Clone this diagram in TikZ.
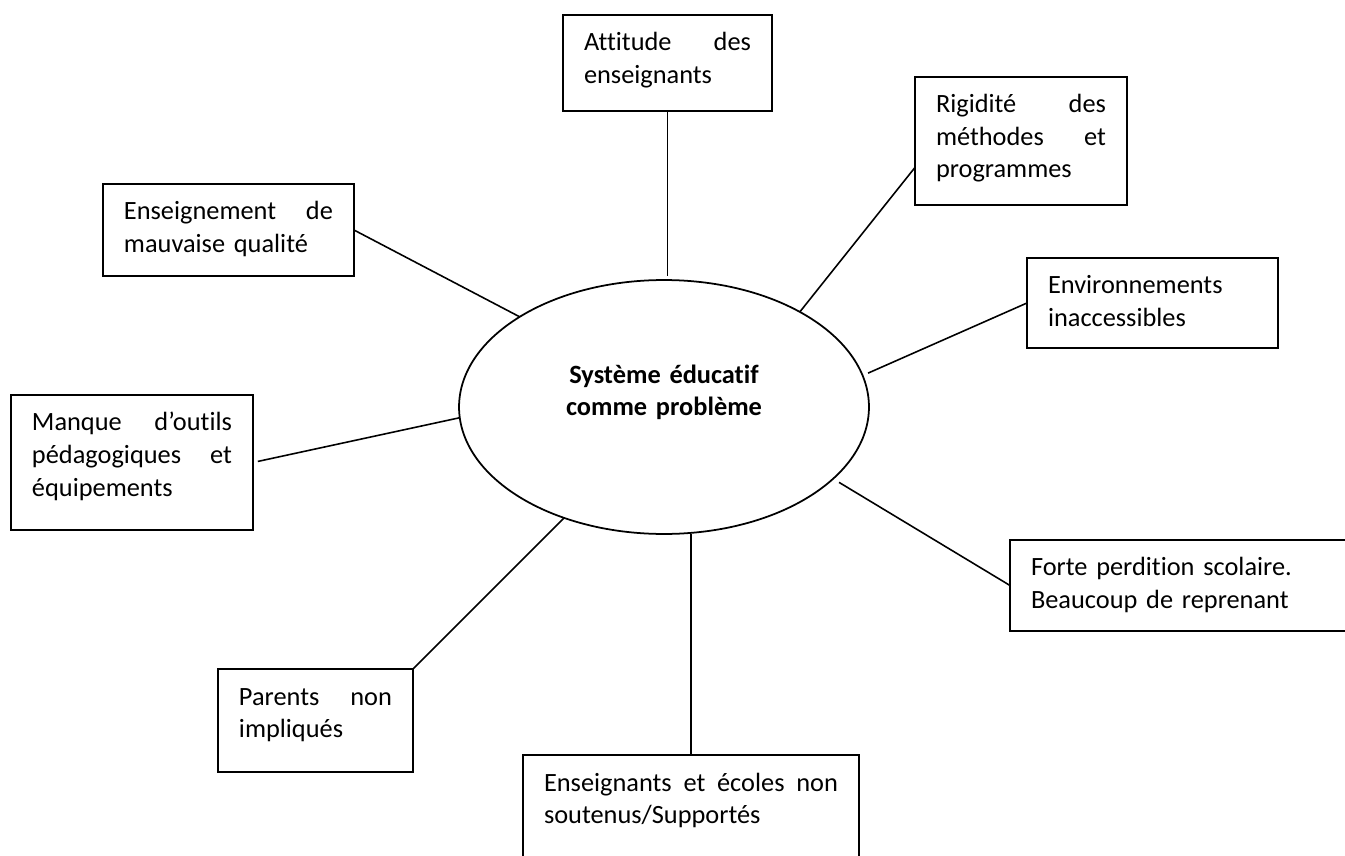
\documentclass[tikz,border=0pt]{standalone}
\usepackage{fontspec}
\setmainfont{Carlito}[Ligatures=CommonOff]
\usetikzlibrary{shapes.geometric}

\tikzset{
  boite/.style={draw,line width=1pt,anchor=north west,outer sep=0pt,inner xsep=0.42cm,inner ysep=0pt,
    align=left,text height=0.72cm,font=\fontsize{15}{18.5}\selectfont},
  lien/.style={line width=0.9pt},
}

\begin{document}
\begin{tikzpicture}[x=0.02cm,y=-0.02cm]
  \useasboundingbox (0,0) rectangle (1345,855);
  \node[ellipse,draw,line width=1pt,minimum width=8.2cm,minimum height=5.08cm,inner sep=0pt,outer sep=0pt,
    text width=5cm,align=center,text height=0.36cm,text depth=1.32cm,
    font=\fontsize{15}{18.5}\selectfont\bfseries] (ell) at (664,407) {Système éducatif\\comme problème};

  \node[boite,text width=3.34cm,text depth=1.2cm] (att) at (563,15) {Attitude\hfill des\\enseignants};
  \node[boite,text width=3.40cm,text depth=1.84cm] (rig) at (915,77) {Rigidité\hfill des\\méthodes\hfill et\\programmes};
  \node[boite,text width=4.18cm,text depth=1.08cm] (env) at (1027,258) {Environnements\\inaccessibles};
  \node[boite,text width=5.96cm,text depth=1.10cm] (perd) at (1010,540) {Forte perdition scolaire.\\Beaucoup de reprenant};
  \node[boite,text width=5.88cm,text depth=2.4cm] (sout) at (523,755) {Enseignants\hfill et\hfill écoles\hfill non\\soutenus/Supportés};
  \node[boite,text width=3.06cm,text depth=1.34cm] (par) at (218,669) {Parents\hfill non\\impliqués};
  \node[boite,text width=4.00cm,text depth=1.98cm] (outil) at (11,395) {Manque\hfill d’outils\\pédagogiques\hfill et\\équipements};
  \node[boite,text width=4.18cm,text depth=1.12cm] (qual) at (103,184) {Enseignement\hfill de\\mauvaise qualité};

  \draw[lien,shorten >=0.08cm] (att.south) -- (att.south |- ell.north);
  \draw[lien] (rig.194) -- (ell.35);
  \draw[lien,shorten >=0.12cm] (env.west) -- (ell.9);
  \draw[lien,shorten >=0.14cm] (perd.west) -- (ell.-23.5);
  \draw[lien] (sout.north) -- (sout.north |- ell.south);
  \draw[lien] (par.north east) -- (ell.228);
  \draw[lien,shorten <=0.1cm] (outil.east) -- (ell.183);
  \draw[lien] (qual.east) -- (ell.148);
\end{tikzpicture}
\end{document}
